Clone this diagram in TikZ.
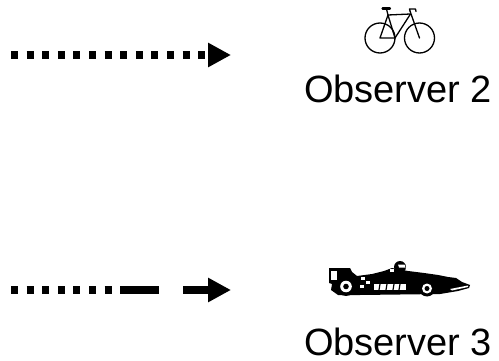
\documentclass[tikz,border=0pt]{standalone}
\usepackage{fontspec}
\setmainfont{Liberation Sans}
\usetikzlibrary{arrows.meta}

\tikzset{
  flowline/.style={line width=7.3pt, -{Triangle[length=23pt,width=23pt]}},
  dotted flow/.style={flowline, dash pattern=on 7pt off 8.6pt},
  broken flow/.style={flowline, dash pattern=on 7pt off 8.6pt on 7pt off 8.6pt on 7pt off 8.6pt on 7pt off 8.6pt on 7pt off 8.6pt on 7pt off 8.6pt on 7pt off 8.6pt on 39pt off 24pt on 60pt},
  observer/.style={font=\fontsize{38}{40}\selectfont, inner sep=0pt, anchor=base},
  bikeline/.style={line width=1.3pt, line join=round, line cap=round},
}

\begin{document}
\begin{tikzpicture}[x=1pt, y=-1pt]
  \useasboundingbox (0,0) rectangle (499,361);

  % arrows
  \coordinate (a1s) at (11,55);
  \coordinate (a1e) at (231,55);
  \coordinate (a2s) at (11,290);
  \coordinate (a2e) at (231,290);
  \draw[dotted flow] (a1s) -- (a1e);
  \draw[broken flow] (a2s) -- (a2e);

  % labels
  \node[observer] (obs2) at (398,103) {Observer 2};
  \node[observer] (obs3) at (398,355) {Observer 3};

  % bicycle
  \begin{scope}[bikeline]
    \draw (380,38) circle (15);
    \draw (419.5,38) circle (15);
    \draw (380,38) -- (395,38) -- (388,15) -- cycle;
    \draw (388,15) -- (410.5,14) -- (395,38);
    \draw (410,11) -- (419.5,38);
    \draw (388,15) -- (386.5,9);
    \draw[line width=2.2pt] (382.5,8.5) -- (390,8.5);
    \draw (410,11) -- (409.5,9) -- (415.5,9) -- (416,11.5);
  \end{scope}

  % racing car silhouette
  \fill (329,268) -- (350,268) -- (352,272) -- (357,276)
        -- (372,274) -- (384,271) -- (392,268) -- (408,271)
        -- (424,273) -- (438,275) -- (448,277) -- (456,278) -- (462,282)
        -- (470,285) -- (469,288) -- (458,291) -- (440,294)
        -- (360,295) -- (338,295) -- (331,290) -- (332,284) -- (329,283) -- cycle;
  \fill (400,267) circle (6);
  \fill (346,286.5) circle (9.5);
  \fill (427,288.5) circle (8);
  % white details
  \begin{scope}[white]
    \fill (346,286.5) circle (5.8);
    \fill (427,288.5) circle (5);
    \fill (331,271) rectangle (337,280);
    \fill (374,284) rectangle (406,290);
    \fill (361,277) rectangle (365,280);
    \fill (366,281) rectangle (370,284);
    \fill (360,285) rectangle (364,288);
    \fill (390,269) rectangle (394,272);
    \fill (398,264.5) -- (404.5,264.5) -- (405.5,267.5) -- (399,267.5) -- cycle;
    \fill (450,289) -- (468,285.5) -- (468,287) -- (452,290.5) -- cycle;
  \end{scope}
  \fill (346,286.5) circle (2.8);
  \fill (427,288.5) circle (2.5);
  \begin{scope}[line width=1.2pt]
    \draw (380,284) -- (379,290);
    \draw (387,284) -- (386,290);
    \draw (394,284) -- (393,290);
    \draw (400,284) -- (399,290);
  \end{scope}
\end{tikzpicture}
\end{document}
